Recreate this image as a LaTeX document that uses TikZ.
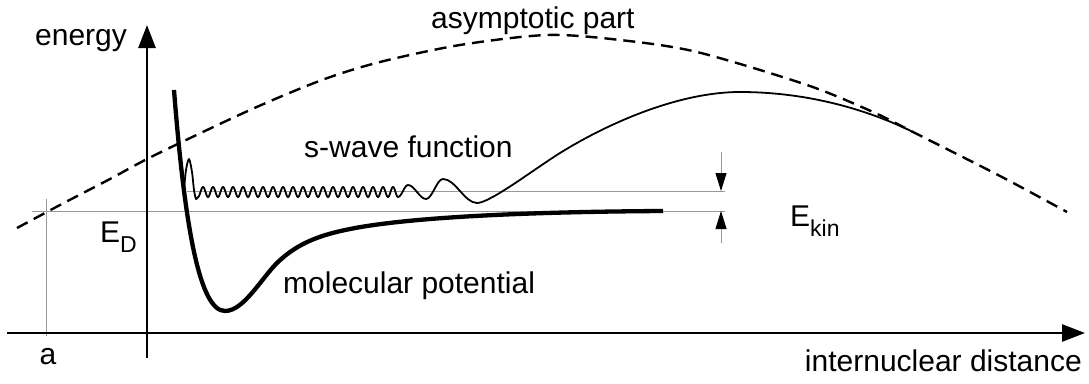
\documentclass[tikz,border=0pt]{standalone}
\usepackage{fontspec}
\setmainfont{Liberation Sans}
\usetikzlibrary{arrows.meta}
\begin{document}
\begin{tikzpicture}[x=1pt,y=-1pt,
  axis/.style={line width=2.6pt,-{Triangle[length=23pt,width=17pt]}},
  pot/.style={line width=4.3pt,line join=round},
  wave/.style={line width=1.8pt,line join=round},
  asym/.style={line width=2.4pt,dash pattern=on 12pt off 7pt},
  guide/.style={line width=1pt,draw=black!40},
  ekarrow/.style={guide,-{Triangle[length=18pt,width=11pt,color=black]}},
  lbl/.style={font=\fontsize{30}{36}\selectfont,inner sep=0pt,anchor=base west}]
\useasboundingbox (0,0) rectangle (1089,383);
% coordinates
\coordinate (xs) at (7,333);
\coordinate (xe) at (1085,333);
\coordinate (ys) at (147,358);
\coordinate (ye) at (147,25);
\coordinate (at) at (46,199);
\coordinate (ab) at (46,336);
\coordinate (edl) at (32,211);
\coordinate (edr) at (725,211);
\coordinate (ekl) at (187,191);
\coordinate (ekr) at (725,191);
\coordinate (k1s) at (721,152);
\coordinate (k1e) at (721,191);
\coordinate (k2s) at (721,243);
\coordinate (k2e) at (721,211);
% guides
\draw[guide] (at) -- (ab);
\draw[guide] (edl) -- (edr);
\draw[guide] (ekl) -- (ekr);
\draw[ekarrow] (k1s) -- (k1e);
\draw[ekarrow] (k2s) -- (k2e);
% axes
\draw[axis] (xs) -- (xe);
\draw[axis] (ys) -- (ye);
% asymptotic part (dashed)
\draw[asym] plot[smooth] coordinates {(17,228)(60,205)(110,179)(155,155)(250,110)(322,80)(380,62)(460,45)(547,35)(620,40)(697,52)(807,85)(873,112)(913,132)(1000,176)(1067,212)};
% molecular potential
\draw[pot] (174,90) .. controls (185,230) and (200,311) .. (225,311)
  .. controls (244,311) and (262,277.2) .. (278,262)
  .. controls (298,243) and (320,235) .. (350,229)
  .. controls (400,219) and (500,212) .. (663,211);
% s-wave function
\draw[wave] plot[smooth] coordinates {(184,190)(186,170)(189,159)(192,172)(194,190)(196,199)(198,197)}
  -- plot[domain=198:398,samples=401] (\x,{192+5*cos(36*(\x-198))})
  .. controls (401.6,197) and (404.4,185) .. (408,185)
  .. controls (414.5,185) and (419.5,199) .. (426,199)
  .. controls (432.2,199) and (436.8,179) .. (443,179)
  .. controls (455.4,179) and (464.6,203) .. (477,203)
  .. controls (490,203) and (535,168.6) .. (560,153)
  .. controls (610,122) and (680,92) .. (740,92)
  .. controls (800,92) and (860,106) .. (913,132);
% labels
\node[lbl] (energy) at (35,45) {energy};
\node[lbl] (asymp) at (431,28) {asymptotic part};
\node[lbl] (swave) at (304,157) {s-wave function};
\node[lbl] (molpot) at (283,293) {molecular potential};
\node[lbl,anchor=base] (alab) at (48,364) {a};
\node[lbl,anchor=base east] (dist) at (1082,371) {internuclear distance};
\node[lbl] (ED) at (100,242) {E\raisebox{-10pt}{\fontsize{23}{23}\selectfont D}};
\node[lbl] (Ekin) at (790,226) {E\raisebox{-10pt}{\fontsize{23}{23}\selectfont kin}};
\end{tikzpicture}
\end{document}
